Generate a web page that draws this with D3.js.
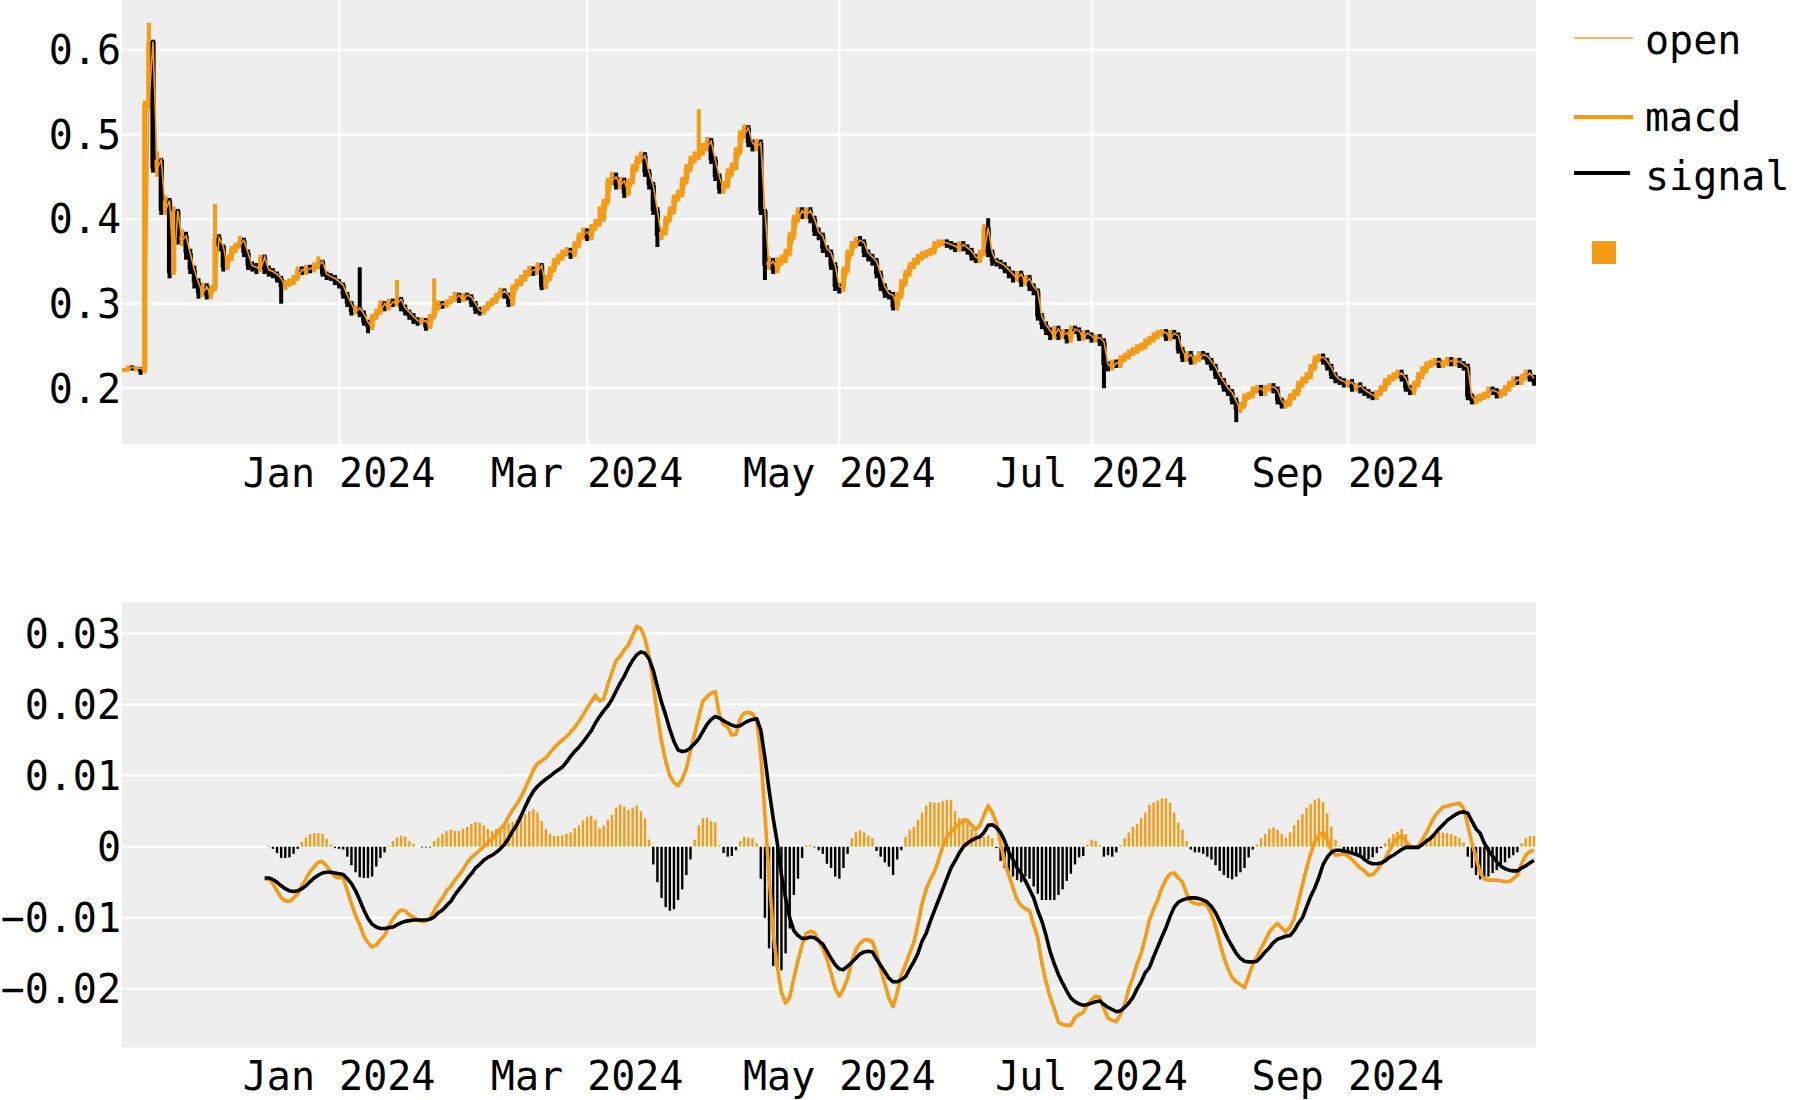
<!DOCTYPE html>
<html><head><meta charset="utf-8">
<script src="https://cdn.jsdelivr.net/npm/d3@7"></script>
<style>body{margin:0;background:#fff}svg{display:block}text{font-family:"DejaVu Sans Mono",monospace;fill:#000}</style>
</head><body><svg id="c" width="1800" height="1100"></svg>
<script>
// ---------- data ----------
const firstDay = [2023, 10, 10]; // 2023-11-10, one candle per day
const openVals = [
.221,.222,.225,.223,.224,.220,.536,.610,.460,.470,
.410,.422,.336,.410,.375,.380,.360,.340,.325,.312,
.320,.310,.318,.378,.368,.343,.355,.365,.370,.375,
.360,.345,.343,.340,.355,.340,.338,.335,.330,.320,
.324,.326,.330,.340,.338,.342,.340,.345,.350,.335,
.332,.330,.326,.322,.310,.300,.290,.295,.288,.278,
.272,.285,.290,.300,.295,.302,.300,.305,.295,.290,
.285,.280,.278,.280,.272,.285,.295,.300,.298,.302,
.305,.310,.305,.310,.308,.300,.292,.290,.295,.300,
.303,.310,.315,.310,.300,.320,.325,.330,.336,.340,
.338,.345,.320,.330,.340,.350,.355,.360,.362,.358,
.370,.380,.385,.378,.390,.395,.400,.420,.445,.450,
.440,.445,.430,.445,.460,.470,.475,.455,.440,.410,
.380,.385,.400,.410,.425,.430,.445,.460,.470,.475,
.480,.485,.492,.470,.450,.435,.440,.455,.462,.480,
.500,.508,.490,.485,.490,.410,.345,.350,.340,.350,
.352,.360,.380,.400,.410,.405,.410,.400,.385,.380,
.365,.360,.345,.320,.318,.340,.360,.370,.375,.372,
.360,.355,.350,.335,.320,.312,.310,.296,.310,.325,
.336,.345,.350,.355,.358,.360,.362,.370,.372,.372,
.370,.368,.365,.370,.366,.362,.355,.352,.360,.390,
.360,.350,.348,.345,.340,.335,.330,.335,.325,.330,
.320,.315,.285,.275,.268,.262,.270,.262,.266,.258,
.270,.268,.260,.265,.262,.258,.260,.255,.228,.225,
.230,.228,.235,.238,.242,.245,.248,.250,.255,.258,
.262,.265,.266,.260,.265,.262,.245,.235,.240,.232,
.235,.240,.238,.232,.225,.215,.208,.200,.195,.185,
.175,.180,.190,.192,.198,.200,.195,.200,.202,.198,
.185,.180,.183,.190,.195,.205,.210,.215,.225,.235,
.237,.232,.225,.215,.210,.208,.205,.207,.200,.203,
.198,.195,.192,.190,.195,.200,.208,.212,.215,.218,
.212,.200,.196,.205,.215,.222,.228,.230,.232,.228,
.230,.233,.230,.232,.228,.225,.190,.185,.188,.190,
.192,.198,.196,.192,.195,.200,.205,.210,.208,.213,
.218,.212];
const closeVals = [
.222,.225,.223,.224,.220,.536,.610,.460,.470,.410,
.422,.336,.410,.375,.380,.360,.340,.325,.312,.320,
.310,.318,.378,.368,.343,.355,.365,.370,.375,.360,
.345,.343,.340,.355,.340,.338,.335,.330,.320,.324,
.326,.330,.340,.338,.342,.340,.345,.350,.335,.332,
.330,.326,.322,.310,.300,.290,.295,.288,.278,.272,
.285,.290,.300,.295,.302,.300,.305,.295,.290,.285,
.280,.278,.280,.272,.285,.295,.300,.298,.302,.305,
.310,.305,.310,.308,.300,.292,.290,.295,.300,.303,
.310,.315,.310,.300,.320,.325,.330,.336,.340,.338,
.345,.320,.330,.340,.350,.355,.360,.362,.358,.370,
.380,.385,.378,.390,.395,.400,.420,.445,.450,.440,
.445,.430,.445,.460,.470,.475,.455,.440,.410,.380,
.385,.400,.410,.425,.430,.445,.460,.470,.475,.480,
.485,.492,.470,.450,.435,.440,.455,.462,.480,.500,
.508,.490,.485,.490,.410,.345,.350,.340,.350,.352,
.360,.380,.400,.410,.405,.410,.400,.385,.380,.365,
.360,.345,.320,.318,.340,.360,.370,.375,.372,.360,
.355,.350,.335,.320,.312,.310,.296,.310,.325,.336,
.345,.350,.355,.358,.360,.362,.370,.372,.372,.370,
.368,.365,.370,.366,.362,.355,.352,.360,.390,.360,
.350,.348,.345,.340,.335,.330,.335,.325,.330,.320,
.315,.285,.275,.268,.262,.270,.262,.266,.258,.270,
.268,.260,.265,.262,.258,.260,.255,.228,.225,.230,
.228,.235,.238,.242,.245,.248,.250,.255,.258,.262,
.265,.266,.260,.265,.262,.245,.235,.240,.232,.235,
.240,.238,.232,.225,.215,.208,.200,.195,.185,.175,
.180,.190,.192,.198,.200,.195,.200,.202,.198,.185,
.180,.183,.190,.195,.205,.210,.215,.225,.235,.237,
.232,.225,.215,.210,.208,.205,.207,.200,.203,.198,
.195,.192,.190,.195,.200,.208,.212,.215,.218,.212,
.200,.196,.205,.215,.222,.228,.230,.232,.228,.230,
.233,.230,.232,.228,.225,.190,.185,.188,.190,.192,
.198,.196,.192,.195,.200,.205,.210,.208,.213,.218,
.212,.207];
const highVals = [
.224,.227,.227,.226,.225,.540,.632,.612,.480,.472,
.428,.425,.415,.412,.388,.385,.365,.345,.330,.325,
.324,.322,.418,.382,.370,.358,.368,.372,.380,.378,
.364,.350,.348,.358,.358,.345,.342,.338,.333,.328,
.330,.334,.344,.344,.346,.346,.349,.356,.352,.338,
.336,.334,.329,.325,.314,.303,.298,.343,.292,.281,
.288,.294,.304,.303,.306,.306,.328,.308,.299,.293,
.289,.284,.284,.283,.288,.330,.304,.303,.305,.309,
.314,.313,.313,.313,.311,.303,.296,.298,.303,.307,
.313,.319,.318,.313,.323,.329,.334,.340,.345,.344,
.349,.348,.334,.344,.354,.359,.364,.367,.366,.374,
.384,.390,.389,.394,.400,.415,.424,.449,.456,.455,
.450,.449,.448,.465,.475,.480,.479,.459,.444,.414,
.390,.404,.415,.429,.435,.450,.465,.475,.480,.530,
.490,.497,.496,.474,.454,.445,.460,.467,.485,.505,
.512,.511,.494,.495,.494,.412,.356,.354,.355,.358,
.365,.385,.405,.414,.414,.414,.414,.404,.390,.384,
.369,.364,.349,.324,.344,.364,.374,.379,.380,.376,
.364,.359,.354,.339,.324,.316,.314,.314,.329,.340,
.349,.354,.359,.362,.364,.366,.374,.376,.376,.376,
.374,.372,.374,.374,.370,.366,.359,.364,.394,.401,
.364,.354,.352,.349,.344,.339,.339,.339,.334,.334,
.324,.318,.289,.279,.272,.274,.274,.270,.270,.274,
.274,.272,.269,.269,.266,.264,.264,.259,.232,.234,
.234,.239,.242,.246,.249,.252,.254,.259,.262,.266,
.269,.270,.270,.269,.269,.266,.249,.244,.244,.239,
.244,.244,.242,.236,.229,.219,.212,.204,.199,.189,
.184,.194,.196,.202,.204,.204,.204,.206,.206,.202,
.189,.187,.194,.199,.209,.214,.219,.229,.239,.241,
.241,.236,.229,.219,.214,.212,.210,.211,.206,.207,
.202,.199,.196,.198,.204,.212,.216,.219,.222,.222,
.216,.204,.209,.219,.226,.232,.234,.236,.236,.234,
.237,.237,.236,.236,.232,.229,.194,.192,.194,.196,
.202,.202,.200,.199,.204,.209,.214,.214,.217,.222,
.222,.216];
const lowVals = [
.219,.220,.221,.220,.216,.218,.530,.455,.450,.405,
.405,.330,.334,.370,.368,.352,.335,.318,.306,.308,
.305,.306,.315,.362,.338,.340,.350,.360,.365,.355,
.340,.338,.335,.337,.335,.332,.330,.325,.300,.316,
.320,.322,.327,.334,.334,.336,.337,.341,.332,.328,
.327,.322,.318,.306,.296,.286,.287,.284,.274,.265,
.269,.281,.287,.291,.292,.296,.297,.291,.286,.281,
.276,.274,.275,.268,.270,.282,.292,.294,.295,.299,
.302,.301,.302,.304,.296,.288,.286,.287,.292,.297,
.300,.307,.306,.296,.297,.317,.321,.326,.332,.333,
.334,.316,.317,.327,.337,.346,.351,.356,.353,.355,
.366,.376,.374,.375,.386,.391,.397,.417,.440,.435,
.435,.425,.427,.441,.456,.466,.450,.435,.405,.367,
.375,.381,.396,.406,.421,.426,.441,.456,.466,.470,
.475,.480,.465,.445,.430,.430,.436,.450,.458,.476,
.495,.485,.480,.480,.405,.328,.340,.335,.336,.345,
.348,.356,.376,.396,.400,.400,.395,.380,.375,.360,
.355,.340,.315,.312,.314,.336,.356,.366,.368,.355,
.350,.345,.330,.315,.307,.305,.292,.292,.306,.321,
.332,.341,.346,.351,.354,.356,.358,.366,.368,.366,
.364,.361,.361,.362,.358,.351,.348,.348,.356,.355,
.345,.344,.341,.336,.330,.325,.326,.320,.321,.315,
.310,.280,.270,.263,.257,.258,.257,.258,.253,.254,
.264,.256,.256,.258,.254,.254,.250,.200,.220,.221,
.224,.224,.231,.234,.238,.241,.244,.246,.251,.254,
.258,.261,.256,.256,.258,.241,.231,.231,.228,.228,
.231,.234,.228,.221,.211,.204,.196,.191,.181,.160,
.171,.176,.186,.188,.194,.191,.191,.196,.194,.181,
.176,.176,.179,.186,.191,.201,.206,.211,.221,.231,
.228,.221,.211,.206,.204,.201,.201,.196,.196,.194,
.191,.188,.186,.186,.191,.196,.204,.208,.211,.208,
.196,.192,.192,.201,.211,.218,.224,.226,.224,.224,
.226,.226,.226,.224,.221,.186,.181,.181,.184,.186,
.188,.192,.188,.188,.191,.196,.201,.204,.204,.209,
.208,.203];

const macdStart = 34; // index of first MACD value
const macdVals = [
-.0046,-.0045,-.0052,-.0062,-.0072,-.0076,-.0077,-.0072,-.0066,-.0055,
-.0045,-.0035,-.0028,-.0022,-.0021,-.0027,-.0036,-.0042,-.0044,-.0043,
-.0062,-.0080,-.0097,-.0110,-.0126,-.0135,-.0141,-.0138,-.0131,-.0125,
-.0112,-.0102,-.0094,-.0089,-.0090,-.0096,-.0099,-.0103,-.0105,-.0104,
-.0101,-.0090,-.0080,-.0072,-.0062,-.0056,-.0047,-.0040,-.0032,-.0022,
-.0015,-.0010,-.0005,0,.0006,.0011,.0018,.0025,.0031,.0042,
.0052,.0060,.0070,.0082,.0095,.0108,.0117,.0121,.0125,.0132,
.0139,.0145,.0150,.0155,.0161,.0168,.0176,.0185,.0195,.0204,
.0213,.0205,.0208,.0228,.0245,.0262,.0268,.0277,.0284,.0297,
.0310,.0307,.0292,.0268,.0228,.0185,.0148,.0120,.0100,.0090,
.0086,.0095,.0110,.0135,.0158,.0183,.0205,.0211,.0216,.0218,
.0185,.0172,.0168,.0157,.0158,.0180,.0188,.0189,.0187,.0178,
.0130,.0045,-.0040,-.0120,-.0170,-.0205,-.0220,-.0212,-.0185,-.0160,
-.0138,-.0122,-.0119,-.0121,-.0133,-.0143,-.0158,-.0178,-.0200,-.0210,
-.0200,-.0185,-.0162,-.0145,-.0136,-.0131,-.0131,-.0134,-.0150,-.0172,
-.0193,-.0213,-.0225,-.0205,-.0180,-.0166,-.0150,-.0135,-.0110,-.0080,
-.0060,-.0046,-.0035,-.0018,0,.0014,.0021,.0027,.0032,.0038,
.0037,.0030,.0024,.0030,.0045,.0058,.0048,.0033,.0005,-.0022,
-.0040,-.0058,-.0075,-.0083,-.0087,-.0090,-.0110,-.0128,-.0165,-.0190,
-.0212,-.0228,-.0247,-.0250,-.0251,-.0251,-.0240,-.0236,-.0233,-.0222,
-.0215,-.0210,-.0212,-.0228,-.0241,-.0244,-.0246,-.0236,-.0222,-.0200,
-.0184,-.0165,-.0150,-.0128,-.0103,-.0088,-.0075,-.0058,-.0046,-.0038,
-.0037,-.0044,-.0050,-.0066,-.0077,-.0080,-.0081,-.0080,-.0083,-.0095,
-.0112,-.0135,-.0155,-.0172,-.0184,-.0190,-.0194,-.0198,-.0182,-.0166,
-.0155,-.0143,-.0132,-.0120,-.0113,-.0108,-.0114,-.0120,-.0113,-.0101,
-.0078,-.0054,-.0030,-.0010,.0008,.0016,.0020,.0010,-.0004,-.0012,
-.0011,-.0010,-.0013,-.0018,-.0024,-.0030,-.0034,-.0040,-.0039,-.0033,
-.0025,-.0017,-.0006,.0005,.0012,.0015,.0008,.0001,-.0001,0,
.0010,.0020,.0032,.0043,.0050,.0056,.0057,.0059,.0060,.0061,
.0054,.0030,.0005,-.0015,-.0037,-.0045,-.0047,-.0047,-.0047,-.0048,
-.0049,-.0049,-.0045,-.0040,-.0024,-.0012,-.0007,-.0005];
const signalVals = [
-.0044,-.0044,-.0046,-.0050,-.0055,-.0059,-.0062,-.0063,-.0062,-.0059,
-.0055,-.0049,-.0044,-.0040,-.0037,-.0036,-.0036,-.0037,-.0038,-.0039,
-.0045,-.0052,-.0062,-.0075,-.0089,-.0101,-.0109,-.0113,-.0115,-.0115,
-.0114,-.0113,-.0110,-.0107,-.0105,-.0104,-.0103,-.0103,-.0103,-.0103,
-.0102,-.0099,-.0093,-.0089,-.0083,-.0077,-.0068,-.0060,-.0053,-.0045,
-.0038,-.0030,-.0025,-.0019,-.0015,-.0012,-.0008,-.0003,.0003,.0012,
.0022,.0031,.0043,.0056,.0068,.0078,.0085,.0090,.0095,.0099,
.0104,.0108,.0112,.0119,.0127,.0134,.0140,.0147,.0155,.0163,
.0174,.0183,.0191,.0198,.0207,.0219,.0230,.0240,.0252,.0262,
.0270,.0274,.0272,.0264,.0248,.0225,.0203,.0185,.0165,.0148,
.0136,.0134,.0135,.0139,.0145,.0152,.0162,.0172,.0179,.0183,
.0181,.0177,.0174,.0171,.0169,.0170,.0174,.0177,.0179,.0180,
.0164,.0125,.0080,.0040,.0005,-.0040,-.0072,-.0100,-.0118,-.0125,
-.0129,-.0129,-.0127,-.0128,-.0132,-.0137,-.0147,-.0157,-.0166,-.0172,
-.0173,-.0168,-.0163,-.0157,-.0151,-.0148,-.0147,-.0148,-.0158,-.0167,
-.0176,-.0185,-.0190,-.0190,-.0187,-.0183,-.0172,-.0162,-.0150,-.0133,
-.0122,-.0105,-.0090,-.0075,-.0060,-.0045,-.0030,-.0020,-.0009,0,
.0005,.0009,.0012,.0014,.0020,.0030,.0031,.0027,.0020,.0008,
-.0008,-.0018,-.0030,-.0038,-.0048,-.0060,-.0072,-.0090,-.0105,-.0125,
-.0148,-.0165,-.0180,-.0192,-.0203,-.0213,-.0218,-.0221,-.0223,-.0222,
-.0220,-.0218,-.0217,-.0222,-.0226,-.0229,-.0232,-.0231,-.0226,-.0220,
-.0212,-.0200,-.0190,-.0177,-.0170,-.0155,-.0141,-.0127,-.0114,-.0098,
-.0085,-.0078,-.0075,-.0073,-.0072,-.0072,-.0073,-.0075,-.0078,-.0084,
-.0093,-.0105,-.0118,-.0130,-.0140,-.0150,-.0157,-.0161,-.0162,-.0162,
-.0161,-.0155,-.0148,-.0142,-.0135,-.0130,-.0128,-.0126,-.0125,-.0118,
-.0108,-.0100,-.0085,-.0070,-.0058,-.0043,-.0025,-.0015,-.0008,-.0005,
-.0005,-.0006,-.0007,-.0009,-.0011,-.0013,-.0018,-.0022,-.0024,-.0024,
-.0023,-.0020,-.0015,-.0012,-.0008,-.0004,-.0001,-.0001,-.0001,-.0001,
.0003,.0008,.0012,.0018,.0025,.0031,.0037,.0041,.0045,.0048,
.0049,.0047,.0036,.0025,.0019,.0005,-.0005,-.0013,-.0021,-.0027,
-.0031,-.0033,-.0034,-.0034,-.0030,-.0027,-.0023,-.0019];
const histVals = [
0,.0001,-.0003,-.0009,-.0016,-.0016,-.0015,-.0010,-.0003,.0007,
.0013,.0018,.0019,.0019,.0018,.0011,.0003,-.0002,-.0003,-.0004,
-.0014,-.0026,-.0036,-.0043,-.0044,-.0044,-.0042,-.0028,-.0016,-.0008,
.0001,.0008,.0013,.0015,.0014,.0008,.0004,0,-.0001,-.0001,
-.0001,.0008,.0013,.0018,.0022,.0024,.0022,.0022,.0025,.0028,
.0032,.0035,.0034,.0030,.0025,.0022,.0025,.0026,.0030,.0033,
.0035,.0038,.0041,.0046,.0050,.0053,.0048,.0036,.0025,.0018,
.0015,.0015,.0016,.0018,.0020,.0026,.0030,.0037,.0042,.0044,
.0038,.0026,.0030,.0038,.0045,.0055,.0059,.0056,.0052,.0055,
.0058,.0050,.0040,.0010,-.0025,-.0050,-.0072,-.0085,-.0090,-.0088,
-.0075,-.0060,-.0040,-.0018,.0010,.0030,.0040,.0041,.0036,.0034,
.0002,-.0009,-.0014,-.0013,-.0005,.0008,.0014,.0013,.0012,.0005,
-.0045,-.0100,-.0143,-.0168,-.0174,-.0174,-.0150,-.0115,-.0068,-.0045,
-.0016,.0002,.0002,-.0001,-.0005,-.0010,-.0024,-.0030,-.0042,-.0045,
-.0030,-.0010,.0012,.0021,.0023,.0020,.0015,.0012,-.0006,-.0014,
-.0022,-.0028,-.0040,-.0018,-.0005,.0014,.0024,.0028,.0038,.0048,
.0058,.0063,.0062,.0062,.0064,.0066,.0066,.0050,.0040,.0038,
.0036,.0025,.0020,.0018,.0014,.0016,.0012,-.0002,-.0020,-.0030,
-.0035,-.0042,-.0047,-.0050,-.0042,-.0045,-.0056,-.0066,-.0075,-.0075,
-.0075,-.0075,-.0068,-.0060,-.0048,-.0038,-.0025,-.0015,-.0013,.0003,
.0010,.0008,.0002,-.0014,-.0012,-.0014,-.0008,.0002,.0012,.0020,
.0028,.0032,.0040,.0048,.0059,.0062,.0065,.0068,.0068,.0062,
.0048,.0034,.0024,.0008,-.0004,-.0008,-.0008,-.0010,-.0014,-.0018,
-.0026,-.0034,-.0040,-.0044,-.0046,-.0042,-.0036,-.0030,-.0015,-.0004,
.0003,.0012,.0018,.0025,.0027,.0024,.0018,.0013,.0020,.0030,
.0038,.0046,.0055,.0060,.0066,.0068,.0063,.0047,.0028,.0010,
.0001,-.0006,-.0008,-.0010,-.0013,-.0015,-.0017,-.0018,-.0015,-.0009,
-.0002,.0005,.0012,.0018,.0021,.0025,.0018,.0004,0,.0001,
.0005,.0011,.0016,.0019,.0021,.0020,.0019,.0018,.0015,.0012,
.0006,-.0014,-.0030,-.0040,-.0046,-.0047,-.0042,-.0037,-.0033,-.0028,
-.0022,-.0016,-.0012,-.0008,.0005,.0012,.0015,.0015];

const xTickDates  = [[2024,0,1],[2024,2,1],[2024,4,1],[2024,6,1],[2024,8,1]];
const xTickLabels = ["Jan 2024","Mar 2024","May 2024","Jul 2024","Sep 2024"];
const priceTicks  = [0.2,0.3,0.4,0.5,0.6];
const macdTicks   = [-0.02,-0.01,0,0.01,0.02,0.03];
const legendLabels = ["open","macd","signal"];

// ---------- drawing ----------
const ORANGE = "#f59b14", BLACK = "#000", BG = "#eeeeee";
const svg = d3.select("#c");
const FS = 40;
const L = 122, R = 1536;
const top1 = 0, bot1 = 444, top2 = 602.7, bot2 = 1047.3;
const DAY = 864e5;
const day0 = Date.UTC(...firstDay);
const dateOf = i => new Date(day0 + i * DAY);

const x = d3.scaleUtc()
  .domain([new Date(day0 - DAY / 2), new Date(day0 + (closeVals.length - 0.5) * DAY)])
  .range([L, R]);
const y1 = d3.scaleLinear().domain([0.13416, 0.65898]).range([bot1, top1]);
const y2 = d3.scaleLinear().domain([-0.028214, 0.034318]).range([bot2, top2]);
const tickDates = xTickDates.map(d => new Date(Date.UTC(...d)));

const defs = svg.append("defs");
defs.append("clipPath").attr("id","clip1").append("rect").attr("x",L).attr("y",top1).attr("width",R-L).attr("height",bot1-top1);
defs.append("clipPath").attr("id","clip2").append("rect").attr("x",L).attr("y",top2).attr("width",R-L).attr("height",bot2-top2);

svg.append("rect").attr("x",L).attr("y",top1).attr("width",R-L).attr("height",bot1-top1).attr("fill",BG);
svg.append("rect").attr("x",L).attr("y",top2).attr("width",R-L).attr("height",bot2-top2).attr("fill",BG);

const g1 = svg.append("g");
g1.selectAll("line.h").data(priceTicks).join("line")
  .attr("x1",L).attr("x2",R).attr("y1",d=>y1(d)).attr("y2",d=>y1(d))
  .attr("stroke","#fff").attr("stroke-width",2.4);
g1.selectAll("line.v").data(tickDates).join("line")
  .attr("x1",d=>x(d)).attr("x2",d=>x(d)).attr("y1",top1).attr("y2",bot1)
  .attr("stroke","#fff").attr("stroke-width",2.4);
const g2 = svg.append("g");
g2.selectAll("line").data(macdTicks).join("line")
  .attr("x1",L).attr("x2",R).attr("y1",d=>y2(d)).attr("y2",d=>y2(d))
  .attr("stroke","#fff").attr("stroke-width",2.4);

const fmt1 = d3.format(".1f"), fmt2 = d3.format(".2~f");
svg.append("g").selectAll("text").data(priceTicks).join("text")
  .attr("x",L-1).attr("y",d=>y1(d)).attr("dy","0.36em").attr("text-anchor","end")
  .attr("font-size",FS).text(d=>fmt1(d));
svg.append("g").selectAll("text").data(macdTicks).join("text")
  .attr("x",L-1).attr("y",d=>y2(d)).attr("dy","0.36em").attr("text-anchor","end")
  .attr("font-size",FS).text(d=>fmt2(d));
[487, 1090].forEach(by => {
  svg.append("g").selectAll("text").data(tickDates).join("text")
    .attr("x",d=>x(d)).attr("y",by).attr("text-anchor","middle")
    .attr("font-size",FS).text((d,i)=>xTickLabels[i]);
});

// candles
const candles = closeVals.map((c,i)=>({d:dateOf(i), o:openVals[i], c:c, h:highVals[i], l:lowVals[i]}));
const cg = svg.append("g").attr("clip-path","url(#clip1)");
const BW = 5.2;
cg.selectAll("rect.w").data(candles).join("rect")
  .attr("x",d=>x(d.d)-2).attr("width",4)
  .attr("y",d=>y1(d.h)).attr("height",d=>Math.max(1,y1(d.l)-y1(d.h)))
  .attr("fill",d=>d.c>=d.o?ORANGE:BLACK);
cg.selectAll("rect.b").data(candles).join("rect")
  .attr("x",d=>x(d.d)-BW/2).attr("width",BW)
  .attr("y",d=>y1(Math.max(d.o,d.c)))
  .attr("height",d=>Math.max(2,Math.abs(y1(d.o)-y1(d.c))))
  .attr("fill",d=>d.c>=d.o?ORANGE:BLACK);
cg.append("path").datum(candles)
  .attr("d", d3.line().x(d=>x(d.d)).y(d=>y1(d.o)))
  .attr("fill","none").attr("stroke",ORANGE).attr("stroke-width",1.6);

// MACD panel
const mg = svg.append("g").attr("clip-path","url(#clip2)");
const hist = histVals.map((v,j)=>({d:dateOf(macdStart+j), v}));
mg.selectAll("rect").data(hist).join("rect")
  .attr("x",d=>x(d.d)-1.2).attr("width",2.4)
  .attr("y",d=>y2(Math.max(0,d.v))).attr("height",d=>Math.abs(y2(d.v)-y2(0)))
  .attr("fill",d=>d.v>=0?ORANGE:BLACK);
const macd = macdVals.map((v,j)=>({d:dateOf(macdStart+j), v}));
const sig = signalVals.map((v,j)=>({d:dateOf(macdStart+j), v}));
const ln = d3.line().x(d=>x(d.d)).y(d=>y2(d.v));
mg.append("path").datum(macd).attr("d",ln).attr("fill","none").attr("stroke",ORANGE).attr("stroke-width",3.6).attr("stroke-linejoin","round");
mg.append("path").datum(sig).attr("d",ln).attr("fill","none").attr("stroke",BLACK).attr("stroke-width",3.6).attr("stroke-linejoin","round");

// legend
const lg = svg.append("g");
const legendRows = [
  {ly:38, ty:54, color:ORANGE, w:1.6, x2:1633},
  {ly:117, ty:131, color:ORANGE, w:4, x2:1633},
  {ly:173, ty:190, color:BLACK, w:4, x2:1630}
];
legendRows.forEach((r,i)=>{
  lg.append("line").attr("x1",1574).attr("x2",r.x2).attr("y1",r.ly).attr("y2",r.ly)
    .attr("stroke",r.color).attr("stroke-width",r.w);
  lg.append("text").attr("x",1645).attr("y",r.ty).attr("font-size",FS).text(legendLabels[i]);
});
lg.append("rect").attr("x",1592).attr("y",241).attr("width",24).attr("height",23).attr("fill",ORANGE);
</script></body></html>
